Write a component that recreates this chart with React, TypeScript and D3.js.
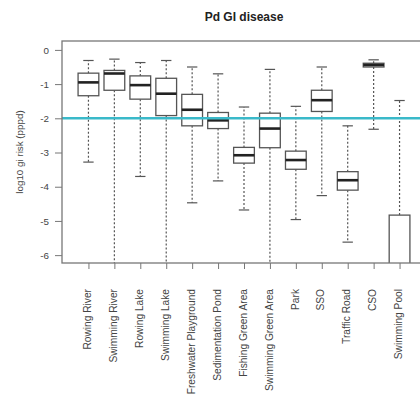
import { useEffect, useRef } from 'react';
import * as d3 from 'd3';

const categories = [
  'Rowing River', 'Swimming River', 'Rowing Lake', 'Swimming Lake',
  'Freshwater Playground', 'Sedimentation Pond', 'Fishing Green Area',
  'Swimming Green Area', 'Park', 'SSO', 'Traffic Road', 'CSO', 'Swimming Pool',
];
// whisker low/high, box q1/q3, median (log10 risk)
const whiskerLow = [-3.28, -7, -3.70, -7, -4.47, -3.83, -4.68, -7, -4.96, -4.26, -5.62, -2.32, -7];
const q1 = [-1.34, -1.18, -1.44, -1.92, -2.22, -2.30, -3.31, -2.86, -3.49, -1.80, -4.10, -0.50, -7];
const median = [-0.95, -0.69, -1.03, -1.28, -1.75, -2.06, -3.08, -2.30, -3.22, -1.47, -3.81, -0.44, -7];
const q3 = [-0.68, -0.60, -0.76, -0.83, -1.30, -1.83, -2.85, -1.85, -2.96, -1.18, -3.56, -0.39, -4.83];
const whiskerHigh = [-0.31, -0.27, -0.37, -0.31, -0.50, -0.70, -1.67, -0.57, -1.65, -0.50, -2.22, -0.29, -1.48];
const yTicks = [0, -1, -2, -3, -4, -5, -6];
const threshold = -2;
const title = 'Pd GI disease';
const yLabel = 'log10 gi risk (pppd)';

const W = 420;
const H = 396;
const left = 62;
const right = 426;
const top = 41;
const bottom = 263;

export default function App() {
  const ref = useRef<SVGSVGElement>(null);

  useEffect(() => {
    const svg = d3.select(ref.current);
    svg.selectAll('*').remove();
    const font = 'Liberation Sans, Arial, sans-serif';

    const n = categories.length;
    const pad = 0.04 * n;
    const x = d3.scaleLinear().domain([0.5 - pad, n + 0.5 + pad]).range([left, right]);
    const y = d3.scaleLinear().domain([-6.23, 0.26]).range([bottom, top]);
    const bw = 0.8 * (x(1) - x(0));

    svg.append('defs').append('clipPath').attr('id', 'plotclip')
      .append('rect').attr('x', left).attr('y', top).attr('width', right - left).attr('height', bottom - top);

    // title
    svg.append('text').attr('x', (left + right) / 2).attr('y', 21)
      .attr('text-anchor', 'middle').attr('font-family', font).attr('font-weight', 'bold')
      .attr('font-size', 12).attr('fill', '#222').text(title);

    const g = svg.append('g').attr('clip-path', 'url(#plotclip)');

    categories.forEach((c, i) => {
      const cx = x(i + 1);
      // dashed whiskers
      g.append('line').attr('x1', cx).attr('x2', cx).attr('y1', y(q3[i])).attr('y2', y(whiskerHigh[i]))
        .attr('stroke', '#555').attr('stroke-dasharray', '2,2').attr('stroke-width', 1.2);
      g.append('line').attr('x1', cx).attr('x2', cx).attr('y1', y(q1[i])).attr('y2', y(whiskerLow[i]))
        .attr('stroke', '#555').attr('stroke-dasharray', '2,2').attr('stroke-width', 1.2);
      // caps
      [whiskerHigh[i], whiskerLow[i]].forEach(v => {
        g.append('line').attr('x1', cx - bw / 4).attr('x2', cx + bw / 4).attr('y1', y(v)).attr('y2', y(v))
          .attr('stroke', '#555').attr('stroke-width', 1.2);
      });
      // box
      g.append('rect').attr('x', cx - bw / 2).attr('y', y(q3[i])).attr('width', bw)
        .attr('height', y(q1[i]) - y(q3[i])).attr('fill', 'white')
        .attr('stroke', '#555').attr('stroke-width', 1.3);
      g.append('line').attr('x1', cx - bw / 2).attr('x2', cx + bw / 2).attr('y1', y(median[i])).attr('y2', y(median[i]))
        .attr('stroke', '#222').attr('stroke-width', 2.6);
    });

    // reference line
    svg.append('line').attr('x1', left).attr('x2', right).attr('y1', y(threshold)).attr('y2', y(threshold))
      .attr('stroke', '#3ab9c9').attr('stroke-width', 2.4);

    // frame
    svg.append('rect').attr('x', left).attr('y', top).attr('width', right - left).attr('height', bottom - top)
      .attr('fill', 'none').attr('stroke', '#777').attr('stroke-width', 1.3);

    // y axis
    const ya = svg.append('g').attr('transform', `translate(${left},0)`)
      .call(d3.axisLeft(y).tickValues(yTicks).tickSize(7).tickFormat(d => String(d)));
    ya.select('.domain').remove();
    ya.selectAll('line').attr('stroke', '#777');
    ya.selectAll('text').attr('font-family', font).attr('font-size', 9.8).attr('fill', '#444').attr('x', -13);

    // x axis ticks
    const xa = svg.append('g').attr('transform', `translate(0,${bottom})`)
      .call(d3.axisBottom(x).tickValues(d3.range(1, n + 1)).tickSize(6).tickFormat(() => ''));
    xa.select('.domain').remove();
    xa.selectAll('line').attr('stroke', '#777');

    // rotated x labels
    categories.forEach((c, i) => {
      svg.append('text').attr('transform', `translate(${x(i + 1)},289) rotate(-90)`)
        .attr('text-anchor', 'end').attr('dominant-baseline', 'middle')
        .attr('font-family', font).attr('font-size', 10.2).attr('fill', '#444').text(c);
    });

    svg.append('text').attr('transform', `translate(20,${(top + bottom) / 2}) rotate(-90)`)
      .attr('text-anchor', 'middle').attr('dominant-baseline', 'middle')
      .attr('font-family', font).attr('font-size', 9.8).attr('fill', '#444').text(yLabel);
  }, []);

  return (
    <svg ref={ref} width={W} height={H}
      style={{ position: 'absolute', left: 0, top: 0, background: 'white' }} />
  );
}
